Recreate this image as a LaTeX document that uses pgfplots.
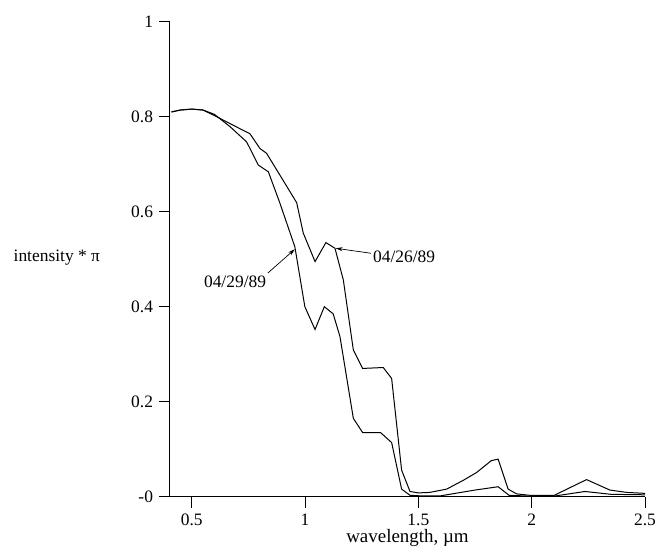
\documentclass[border=0pt]{standalone}
\usepackage{fontspec}
\setmainfont{Liberation Serif}
\usepackage{pgfplots}
\pgfplotsset{compat=1.18}
\usetikzlibrary{arrows.meta}
\begin{document}
\fontsize{17.5}{20}\selectfont
\begin{tikzpicture}
\begin{axis}[
  at={(0,0)}, anchor=south west,
  scale only axis, width=475bp, height=475bp,
  xmin=0.404, xmax=2.5, ymin=0, ymax=1,
  axis lines=left,
  axis line style={-, line width=1bp, black},
  xtick={0.5,1,1.5,2,2.5}, xticklabels={0.5,1,1.5,2,2.5},
  ytick={0,0.2,0.4,0.6,0.8,1}, yticklabels={-0,0.2,0.4,0.6,0.8,1},
  tick align=outside, major tick length=11bp,
  tick style={line width=1bp, black},
  minor tick num=0,
  xlabel={wavelength, µm},
  ylabel={intensity * π},
  xlabel style={at={(axis description cs:0.5,-0.068)}, anchor=north, inner sep=0pt, font=\fontsize{19}{21}\selectfont},
  ylabel style={rotate=-90, at={(axis description cs:-0.147,0.503)}, anchor=east, inner sep=0pt},
  clip=false,
]
% 04/26/89
\addplot[black, line width=1bp] coordinates {
(0.41,0.810) (0.45,0.814) (0.50,0.816) (0.55,0.814) (0.61,0.800)
(0.683,0.782) (0.757,0.764) (0.801,0.733) (0.83,0.723) (0.889,0.677)
(0.963,0.619) (0.992,0.555) (1.044,0.495) (1.092,0.535) (1.132,0.523)
(1.169,0.456) (1.213,0.309) (1.254,0.270) (1.345,0.272) (1.382,0.249)
(1.426,0.056) (1.463,0.011) (1.50,0.008) (1.55,0.009) (1.625,0.016)
(1.70,0.035) (1.757,0.051) (1.822,0.076) (1.852,0.079) (1.896,0.016)
(1.933,0.006) (1.99,0.003) (2.10,0.003) (2.242,0.036) (2.345,0.014)
(2.42,0.009) (2.50,0.007)
};
% 04/29/89
\addplot[black, line width=1bp] coordinates {
(0.41,0.810) (0.45,0.814) (0.50,0.816) (0.55,0.814) (0.60,0.805)
(0.669,0.779) (0.742,0.747) (0.794,0.698) (0.838,0.684) (0.889,0.618)
(0.955,0.526) (0.999,0.400) (1.044,0.352) (1.085,0.400) (1.124,0.385)
(1.154,0.337) (1.213,0.165) (1.254,0.135) (1.333,0.135) (1.382,0.114)
(1.426,0.016) (1.463,0.003) (1.50,0.002) (1.60,0.002) (1.75,0.014)
(1.852,0.021) (1.90,0.003) (2.0,0.001) (2.11,0.002) (2.235,0.011)
(2.35,0.005) (2.50,0.004)
};
\node at (axis cs:0.691,0.453) {04/29/89};
\draw[-{Stealth[length=7bp,width=4bp]}, line width=0.7bp] (axis cs:0.836,0.471) -- (axis cs:0.955,0.521);
\node[anchor=west, inner sep=1pt] at (axis cs:1.295,0.505) {04/26/89};
\draw[-{Stealth[length=7bp,width=4bp]}, line width=0.7bp] (axis cs:1.291,0.5125) -- (axis cs:1.135,0.523);
\end{axis}
\pgfresetboundingbox
\path (-170bp,-53.3bp) rectangle (499bp,496.7bp);
\end{tikzpicture}
\end{document}
